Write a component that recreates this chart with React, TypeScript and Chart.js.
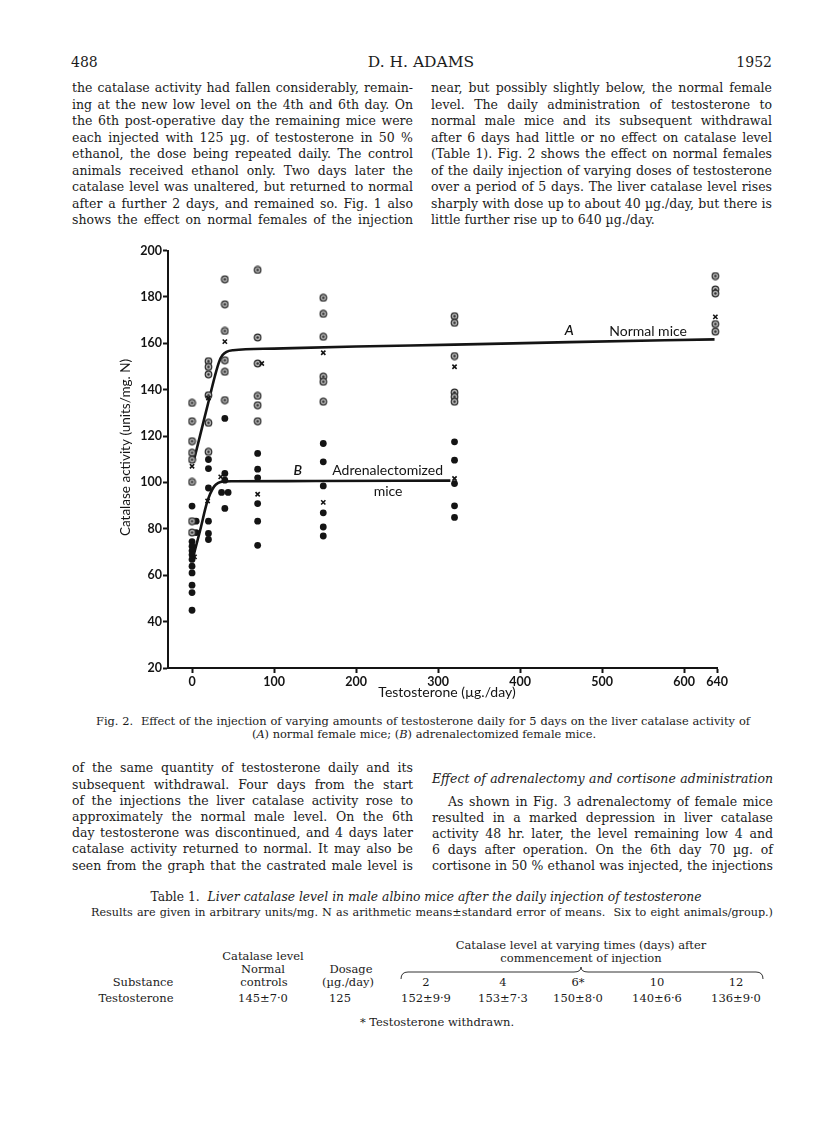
import React, { useEffect, useRef } from 'react';
import { Chart, registerables } from 'chart.js';

Chart.register(...registerables);

// ---------- chart data ----------
const xTickValues = [0, 100, 200, 300, 400, 500, 600, 640];
const yMin = 20;
const yMax = 200;
const yStep = 20;

// (A) normal female mice: individual animals (open circles)
const normalDose = [
  0, 0, 0, 0, 0, 0, 0, 0,
  20, 20, 20, 20, 20, 20,
  40, 40, 40, 40, 40, 40,
  80, 80, 80, 80, 80, 80,
  160, 160, 160, 160, 160, 160,
  320, 320, 320, 320, 320, 320,
  638, 638, 638, 638, 638,
];
const normalActivity = [
  134.3, 126.4, 117.8, 112.8, 109.8, 100.2, 83.3, 78.4,
  152.3, 149.8, 146.6, 137.6, 125.7, 113.2,
  187.6, 176.8, 165.3, 152.7, 147.7, 135.5,
  191.6, 162.5, 151.3, 137.3, 133.3, 126.4,
  179.6, 172.7, 162.8, 145.6, 143.4, 134.8,
  171.7, 168.8, 154.5, 138.8, 136.9, 134.8,
  189, 183.2, 181.5, 168.3, 165,
];

// (B) adrenalectomized female mice: individual animals (filled dots)
const adrenalDose = [
  0, 0, 0, 0, 0, 0, 0, 0, 0, 0, 0, 5, 5,
  20, 20, 20, 20, 20, 20,
  40, 40, 40, 40, 36, 44,
  80, 80, 80, 80, 80, 80,
  160, 160, 160, 160, 160, 160,
  320, 320, 320, 320, 320,
];
const adrenalActivity = [
  89.8, 74.5, 72.5, 70.5, 68.8, 66.8, 63.9, 61, 55.7, 52.5, 44.9, 83.3, 78.4,
  109.9, 106, 97.6, 83.3, 78, 75.4,
  127.6, 103.9, 101, 88.8, 95.7, 95.7,
  112.5, 105.7, 102, 90.9, 83.3, 72.9,
  116.8, 108.9, 98.5, 86.9, 80.8, 76.9,
  117.5, 109.6, 99.5, 89.9, 84.9,
];

// group means (x marks)
const normalMeanDose = [0, 20, 40, 85, 160, 320, 638];
const normalMeanActivity = [107, 136.4, 160.7, 151.3, 155.9, 149.9, 171.4];
const adrenalMeanDose = [3, 19, 35, 80, 160, 320];
const adrenalMeanActivity = [67.9, 92, 102.4, 94.9, 91.4, 101.7];

// fitted curves
const curveADose = [1.5, 10, 20, 28, 33, 37, 42, 50, 100, 200, 320, 460, 637];
const curveAActivity = [108.5, 120.5, 134.7, 146, 152, 154.8, 156.3, 157, 157.7, 158.6, 159.4, 160.5, 161.7];
const curveBDose = [0.8, 10, 17.6, 22, 27, 32, 38, 50, 150, 315];
const curveBActivity = [67.2, 79.5, 90.5, 95, 98.3, 99.8, 100.4, 100.5, 100.6, 100.8];

// curve labels
const curveLabelText = ['A', 'Normal mice', 'B', 'Adrenalectomized', 'mice'];
const curveLabelDose = [460, 556, 129, 238.5, 239];
const curveLabelActivity = [165.4, 165.3, 105.3, 105.3, 96.2];

const xTitle = 'Testosterone (\u00b5g./day)';
const yTitle = 'Catalase activity (units/mg. N)';

// ---------- page text ----------
const topLeft = [
  'the catalase activity had fallen considerably, remain-',
  'ing at the new low level on the 4th and 6th day.  On',
  'the 6th post-operative day the remaining mice were',
  'each injected with 125\u00a0\u00b5g. of testosterone in 50\u00a0%',
  'ethanol, the dose being repeated daily. The control',
  'animals received ethanol only. Two days later the',
  'catalase level was unaltered, but returned to normal',
  'after a further 2 days, and remained so.  Fig. 1 also',
  'shows the effect on normal females of the injection',
];
const topRight = [
  'near, but possibly slightly below, the normal female',
  'level. The daily administration of testosterone to',
  'normal male mice and its subsequent withdrawal',
  'after 6 days had little or no effect on catalase level',
  '(Table 1).  Fig. 2 shows the effect on normal females',
  'of the daily injection of varying doses of testosterone',
  'over a period of 5 days. The liver catalase level rises',
  'sharply with dose up to about 40\u00a0\u00b5g./day, but there is',
  'little further rise up to 640\u00a0\u00b5g./day.',
];
const bottomLeft = [
  'of the same quantity of testosterone daily and its',
  'subsequent withdrawal.  Four days from the start',
  'of the injections the liver catalase activity rose to',
  'approximately the normal male level.  On the 6th',
  'day testosterone was discontinued, and 4 days later',
  'catalase activity returned to normal.  It may also be',
  'seen from the graph that the castrated male level is',
];
const bottomRight = [
  'As shown in Fig. 3 adrenalectomy of female mice',
  'resulted in a marked depression in liver catalase',
  'activity 48 hr. later, the level remaining low 4 and',
  '6 days after operation.  On the 6th day 70\u00a0\u00b5g. of',
  'cortisone in 50\u00a0% ethanol was injected, the injections',
];
const captionLine1 = 'Fig. 2.\u00a0 Effect of the injection of varying amounts of testosterone daily for 5 days on the liver catalase activity of';
const tableResults = 'Results are given in arbitrary units/mg. N as arithmetic means\u00b1standard error of means.\u00a0 Six to eight animals/group.)';
const tableDays = ['2', '4', '6*', '10', '12'];
const tableValues = ['152\u00b19\u00b79', '153\u00b17\u00b73', '150\u00b18\u00b70', '140\u00b16\u00b76', '136\u00b19\u00b70'];
const tableControl = '145\u00b17\u00b70';
const tableDayCenters = [426, 503, 578, 657, 736];

const SERIF = '"DejaVu Serif", "Liberation Serif", serif';

type LineProps = {
  x: number;
  y: number;
  w?: number;
  align?: 'left' | 'center' | 'right' | 'justify';
  size?: number;
  italic?: boolean;
  children?: React.ReactNode;
};

function Line({ x, y, w = 341, align = 'justify', size = 12.5, italic = false, children }: LineProps) {
  const style: React.CSSProperties = {
    position: 'absolute',
    left: x,
    top: y - 9,
    width: w,
    height: 18,
    lineHeight: '18px',
    fontSize: size,
    fontFamily: SERIF,
    textAlign: align as any,
    textAlignLast: align as any,
    whiteSpace: 'nowrap',
    fontStyle: italic ? 'italic' : 'normal',
    color: '#1b1b1b',
  };
  return <div style={style}>{children}</div>;
}

function C({ cx, y, w = 200, size = 11.5, italic = false, children }: { cx: number; y: number; w?: number; size?: number; italic?: boolean; children?: React.ReactNode }) {
  return (
    <Line x={cx - w / 2} y={y} w={w} align="center" size={size} italic={italic}>
      {children}
    </Line>
  );
}

function makeRing(): HTMLCanvasElement {
  const c = document.createElement('canvas');
  c.width = 9;
  c.height = 9;
  const g = c.getContext('2d')!;
  g.beginPath();
  g.arc(4.5, 4.5, 3.3, 0, Math.PI * 2);
  g.fillStyle = '#b4b4b4';
  g.fill();
  g.lineWidth = 1.2;
  g.strokeStyle = '#2c2c2c';
  g.stroke();
  g.beginPath();
  g.arc(4.5, 4.5, 1.2, 0, Math.PI * 2);
  g.fillStyle = '#2c2c2c';
  g.fill();
  return c;
}

function toPoints(xs: number[], ys: number[]) {
  return xs.map((x, i) => ({ x, y: ys[i] }));
}

function CatalaseChart() {
  const ref = useRef<HTMLCanvasElement | null>(null);
  useEffect(() => {
    if (!ref.current) return;
    const ring = makeRing();
    const ink = '#141414';
    const tickFont = { family: 'Lato', size: 12.5, weight: 'bold' as const };
    const labelPlugin = {
      id: 'curveLabels',
      afterDatasetsDraw(chart: any) {
        const { ctx, scales, chartArea } = chart;
        ctx.save();
        ctx.fillStyle = ink;
        ctx.textAlign = 'center';
        ctx.textBaseline = 'middle';
        curveLabelText.forEach((t, i) => {
          ctx.font = (t.length === 1 ? 'italic 600 ' : '') + '14px Lato';
          ctx.fillText(t, scales.x.getPixelForValue(curveLabelDose[i]), scales.y.getPixelForValue(curveLabelActivity[i]));
        });
        // axis titles
        ctx.font = '14px Lato';
        ctx.fillText(xTitle, chartArea.left + 279, chartArea.bottom + 24);
        ctx.translate(chartArea.left - 42, chartArea.top + 197);
        ctx.rotate(-Math.PI / 2);
        ctx.font = '13.5px Lato';
        ctx.fillText(yTitle, 0, 0);
        ctx.restore();
      },
    };
    const chart = new Chart(ref.current, {
      type: 'scatter',
      data: {
        datasets: [
          {
            data: toPoints(normalMeanDose, normalMeanActivity),
            pointStyle: 'crossRot',
            pointRadius: 3,
            borderWidth: 1.6,
            borderColor: ink,
            backgroundColor: ink,
            clip: false,
          } as any,
          {
            data: toPoints(adrenalMeanDose, adrenalMeanActivity),
            pointStyle: 'crossRot',
            pointRadius: 3,
            borderWidth: 1.6,
            borderColor: ink,
            backgroundColor: ink,
            clip: false,
          } as any,
          {
            data: toPoints(normalDose, normalActivity),
            pointStyle: ring,
            pointRadius: 4.5,
            clip: false,
          } as any,
          {
            data: toPoints(adrenalDose, adrenalActivity),
            pointStyle: 'circle',
            pointRadius: 3.4,
            borderWidth: 0,
            backgroundColor: ink,
            clip: false,
          } as any,
          {
            data: toPoints(curveADose, curveAActivity),
            showLine: true,
            pointRadius: 0,
            borderWidth: 2.6,
            borderColor: ink,
            cubicInterpolationMode: 'monotone',
            clip: false,
          } as any,
          {
            data: toPoints(curveBDose, curveBActivity),
            showLine: true,
            pointRadius: 0,
            borderWidth: 2.6,
            borderColor: ink,
            cubicInterpolationMode: 'monotone',
            clip: false,
          } as any,
        ],
      },
      options: {
        animation: false,
        responsive: false,
        events: [],
        layout: { padding: { top: 20.5, right: 43, left: 0, bottom: 0 } },
        plugins: { legend: { display: false }, tooltip: { enabled: false } },
        scales: {
          x: {
            type: 'linear',
            min: -29.3,
            max: 640,
            afterBuildTicks: (s: any) => {
              s.ticks = xTickValues.map((v) => ({ value: v }));
            },
            afterFit: (s: any) => {
              s.height = 42;
            },
            ticks: {
              font: tickFont,
              color: ink,
              padding: 1,
              autoSkip: false,
              maxRotation: 0,
              callback: (v: any) => String(v),
            },
            grid: {
              display: true,
              drawOnChartArea: false,
              drawTicks: true,
              tickLength: 5,
              tickWidth: 2,
              tickColor: ink,
            },
            border: { display: true, color: ink, width: 2 },
            title: { display: false },
          },
          y: {
            type: 'linear',
            min: yMin,
            max: yMax,
            afterFit: (s: any) => {
              s.width = 68;
            },
            ticks: {
              stepSize: yStep,
              font: tickFont,
              color: ink,
              padding: 1,
            },
            grid: {
              display: true,
              drawOnChartArea: false,
              drawTicks: true,
              tickLength: 5,
              tickWidth: 2,
              tickColor: ink,
            },
            border: { display: true, color: ink, width: 2 },
            title: { display: false },
          },
        },
      } as any,
      plugins: [labelPlugin],
    });
    return () => chart.destroy();
  }, []);
  return (
    <canvas
      ref={ref}
      width={660}
      height={480}
      style={{ position: 'absolute', left: 100, top: 230, width: 660, height: 480 }}
    />
  );
}

export default function App() {
  return (
    <div
      style={{
        position: 'absolute',
        left: 0,
        top: 0,
        width: 816,
        height: 1146,
        background: '#ffffff',
        overflow: 'hidden',
      }}
    >
      {/* running header */}
      <Line x={71} y={62} w={60} align="left" size={14}>488</Line>
      <C cx={421} y={62} w={200} size={15.5}>D. H. ADAMS</C>
      <Line x={672} y={62} w={100} align="right" size={14}>1952</Line>

      {topLeft.map((t, i) => (
        <Line key={'tl' + i} x={72} y={88.3 + 16.5 * i}>{t}</Line>
      ))}
      {topRight.map((t, i) => (
        <Line key={'tr' + i} x={431} y={88.3 + 16.5 * i} align={i === topRight.length - 1 ? 'left' : 'justify'}>
          {t}
        </Line>
      ))}

      <CatalaseChart />

      {/* caption */}
      <Line x={96} y={720.7} w={654} size={11.4}>{captionLine1}</Line>
      <C cx={424} y={733.8} w={420} size={11.4}>
        (<i>A</i>) normal female mice; (<i>B</i>) adrenalectomized female mice.
      </C>

      {bottomLeft.map((t, i) => (
        <Line key={'bl' + i} x={72} y={768.3 + 16.2 * i}>{t}</Line>
      ))}
      <Line x={432} y={778.7} italic>Effect of adrenalectomy and cortisone administration</Line>
      {bottomRight.map((t, i) => (
        <Line key={'br' + i} x={i === 0 ? 448 : 432} y={801.7 + 16 * i} w={i === 0 ? 325 : 341}>
          {t}
        </Line>
      ))}

      {/* Table 1 */}
      <C cx={426} y={896.7} w={640} size={12.3}>
        Table 1.{'\u00a0 '}<i>Liver catalase level in male albino mice after the daily injection of testosterone</i>
      </C>
      <Line x={91} y={913.3} w={682} size={11.2}>{tableResults}</Line>
      <C cx={581} y={945} w={330} size={11.5}>Catalase level at varying times (days) after</C>
      <C cx={581} y={958} w={300} size={11.5}>commencement of injection</C>
      <C cx={263} y={956} w={120}>Catalase level</C>
      <C cx={263} y={968.5} w={120}>Normal</C>
      <C cx={264} y={981.7} w={120}>controls</C>
      <C cx={351} y={969} w={80}>Dosage</C>
      <C cx={348} y={981.7} w={80}>{'(\u00b5g./day)'}</C>
      <C cx={143} y={981.7} w={100}>Substance</C>
      {tableDays.map((d, i) => (
        <C key={'d' + i} cx={tableDayCenters[i]} y={981.7} w={60}>{d}</C>
      ))}
      <svg width={816} height={40} style={{ position: 'absolute', left: 0, top: 955 }}>
        <path
          d="M401,24 Q401,17 408,17 L574,17 Q581,17 581,12 Q581,17 588,17 L756,17 Q763,17 763,24"
          fill="none"
          stroke="#333"
          strokeWidth={1}
        />
      </svg>
      <C cx={136} y={998.3} w={110}>Testosterone</C>
      <C cx={263} y={998.3} w={100}>{tableControl}</C>
      <C cx={340} y={998.3} w={60}>125</C>
      {tableValues.map((v, i) => (
        <C key={'v' + i} cx={tableDayCenters[i]} y={998.3} w={90}>{v}</C>
      ))}
      <C cx={437} y={1021.7} w={240}>* Testosterone withdrawn.</C>
    </div>
  );
}
